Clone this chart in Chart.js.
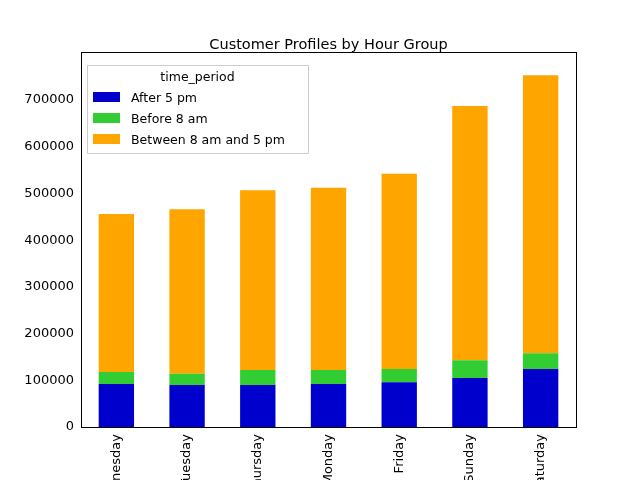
<!DOCTYPE html>
<html>
<head>
<script src="https://cdn.jsdelivr.net/npm/chart.js@4"></script>
<style>
html, body { margin: 0; padding: 0; overflow: hidden; background: #fff; width: 640px; height: 480px; }
#wrap { position: absolute; left: 0; top: 0; width: 640px; height: 560px; }
</style>
</head>
<body>
<div id="wrap"><canvas id="chart" width="640" height="560"></canvas></div>
<script>
// Customer profiles per weekday, stacked by time period
const days = ['Wednesday', 'Tuesday', 'Thursday', 'Monday', 'Friday', 'Sunday', 'Saturday'];
const after5 = [92000, 90000, 90000, 92000, 96000, 105000, 124000];
const before8 = [26000, 24000, 32000, 30000, 28000, 38000, 34000];
const between = [338000, 352000, 385000, 390000, 418000, 544000, 595000];
const seriesNames = ['After 5 pm', 'Before 8 am', 'Between 8 am and 5 pm'];
const seriesColors = ['#0000cd', '#32cd32', '#ffa500'];
const yTicks = [0, 100000, 200000, 300000, 400000, 500000, 600000, 700000];

const font = "'DejaVu Sans', sans-serif";

const framePlugin = {
    id: 'frame',
    afterDraw: function(chart) {
        const ctx = chart.ctx;
        const a = chart.chartArea;
        ctx.save();
        ctx.strokeStyle = '#000';
        ctx.lineWidth = 1;
        ctx.strokeRect(a.left + 0.5, a.top + 0.5, a.right - a.left, a.bottom - a.top);

        // title
        ctx.fillStyle = '#000';
        ctx.font = '14.5px ' + font;
        ctx.textAlign = 'center';
        ctx.textBaseline = 'alphabetic';
        ctx.fillText('Customer Profiles by Hour Group', (a.left + a.right) / 2, 49);

        // legend box inside plot
        const lx = a.left + 6, ly = a.top + 13, lw = 221, lh = 88;
        ctx.fillStyle = 'rgba(255,255,255,0.8)';
        ctx.strokeStyle = '#ccc';
        ctx.beginPath();
        ctx.rect(lx + 0.5, ly + 0.5, lw, lh);
        ctx.fill();
        ctx.stroke();
        ctx.fillStyle = '#000';
        ctx.font = '12.5px ' + font;
        ctx.fillText('time_period', lx + lw / 2, ly + 16);
        ctx.textAlign = 'left';
        seriesNames.forEach(function(name, i) {
            const y = ly + 27 + i * 21;
            ctx.fillStyle = seriesColors[i];
            ctx.fillRect(lx + 6, y, 27, 10);
            ctx.fillStyle = '#000';
            ctx.fillText(name, lx + 44, y + 10);
        });
        ctx.restore();
    }
};

new Chart(document.getElementById('chart'), {
    type: 'bar',
    data: {
        labels: days,
        datasets: [after5, before8, between].map(function(d, i) {
            return {
                label: seriesNames[i],
                data: d,
                backgroundColor: seriesColors[i],
                categoryPercentage: 1,
                barPercentage: 0.5
            };
        })
    },
    options: {
        responsive: false,
        animation: false,
        layout: { padding: { top: 52, right: 64, left: 0, bottom: 0 } },
        plugins: { legend: { display: false }, title: { display: false }, tooltip: { enabled: false } },
        scales: {
            x: {
                stacked: true,
                grid: { display: false, drawTicks: true, tickLength: 4, tickColor: '#000' },
                border: { color: '#000' },
                ticks: { color: '#000', font: { family: font, size: 13 }, maxRotation: 90, minRotation: 90 },
                afterFit: function(scale) { scale.height = 133; }
            },
            y: {
                stacked: true,
                min: 0,
                max: 802800,
                afterBuildTicks: function(scale) { scale.ticks = yTicks.map(v => ({ value: v })); },
                grid: { display: false, drawTicks: true, tickLength: 4, tickColor: '#000' },
                border: { color: '#000' },
                ticks: { color: '#000', font: { family: font, size: 13 }, callback: v => String(v) },
                afterFit: function(scale) { scale.width = 81; }
            }
        }
    },
    plugins: [framePlugin]
});
</script>
</body>
</html>
